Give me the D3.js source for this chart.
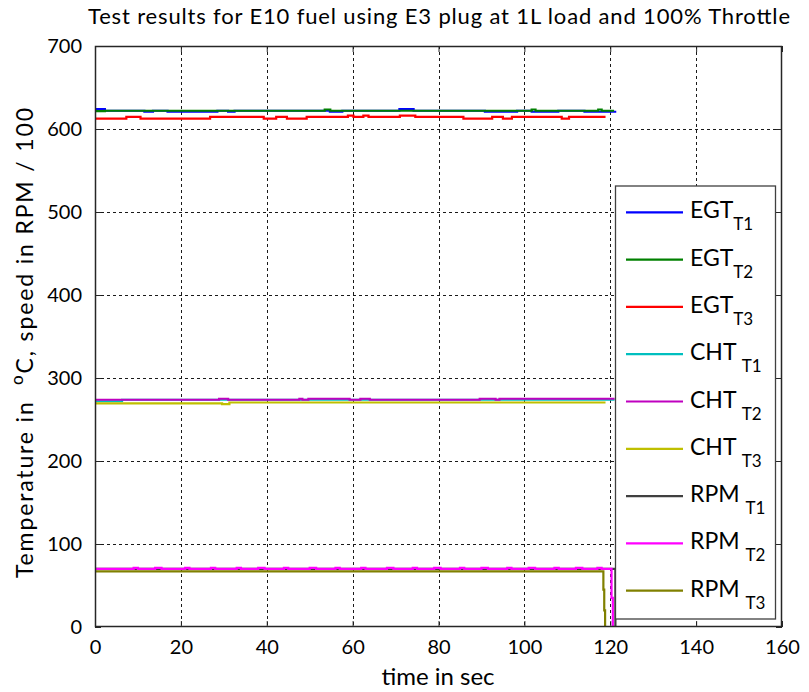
<!DOCTYPE html>
<html>
<head>
<meta charset="utf-8">
<script src="https://cdn.jsdelivr.net/npm/d3@7"></script>
<style>
  html, body { margin: 0; padding: 0; background: #fff; }
  svg { display: block; font-family: Lato, "Open Sans", sans-serif; }
</style>
</head>
<body>
<svg id="chart" width="809" height="692"></svg>
<script>
// ---- Data: step-change times (s) and readings for each trace ----
const xTicks = [0, 20, 40, 60, 80, 100, 120, 140, 160];
const yTicks = [0, 100, 200, 300, 400, 500, 600, 700];

const egtT1Time = [0, 2.3, 11.5, 13.5, 16.9, 28.5, 31, 32.5, 54.7, 57.6, 70.9, 74.2, 90.8, 98.3, 101.7, 107.9, 114, 121.4];
const egtT1Val  = [624, 622, 620.8, 622, 620.8, 622, 620.8, 622, 620.8, 622, 624, 622, 620.8, 622, 620.8, 622, 620.8, 620.8];

const egtT2Time = [0, 2.3, 53.5, 54.8, 101.7, 102.6, 117.2, 118, 120.9];
const egtT2Val  = [621.5, 622, 623.5, 622, 623.5, 622, 623.5, 622, 622];

const egtT3Time = [0, 7.3, 10.6, 26.8, 39.3, 42.2, 44.7, 49.3, 58.9, 60.2, 62.5, 63.7, 71, 74.6, 85.8, 92.5, 95.0, 97.1, 108.7, 110.4, 118.9];
const egtT3Val  = [612.5, 614.5, 612.5, 614.5, 612.5, 614.5, 612.5, 614.5, 616, 614.5, 616, 614.5, 616, 614.5, 612.5, 614.5, 612.5, 614.5, 612.5, 614.5, 614.5];

const chtT1Time = [0, 6.3, 121];
const chtT1Val  = [272, 273.8, 273.8];

const chtT2Time = [0, 28.9, 31.0, 47.6, 48.3, 49.7, 59.3, 61.8, 64.0, 89.6, 93.3, 94.2, 121];
const chtT2Val  = [273.8, 275, 273.8, 275, 273.8, 275, 273.8, 275, 273.8, 275, 273.8, 275, 275];

const chtT3Time = [0, 29.6, 31.3, 118.9];
const chtT3Val  = [269.5, 268.5, 270.5, 270.5];

const rpmT1Time = [0, 121.0, 121.2];
const rpmT1Val  = [70, 70, 0];

const rpmT2Time = [0, 9, 10, 14, 15.5, 21, 22, 27, 28, 33, 34, 38, 39.5, 44, 45, 50, 51.5, 56, 57, 62, 63, 68, 69.5, 74, 75, 79, 80.5, 85, 86, 90, 91.5, 96, 97, 101, 102.5, 107, 108, 112, 113.5, 117, 118, 120.3, 120.6];
const rpmT2Val  = [70, 71.3, 70, 71.3, 70, 71.3, 70, 71.3, 70, 71.3, 70, 71.3, 70, 71.3, 70, 71.3, 70, 71.3, 70, 71.3, 70, 71.3, 70, 71.3, 70, 71.3, 70, 71.3, 70, 71.3, 70, 71.3, 70, 71.3, 70, 71.3, 70, 71.3, 70, 71.3, 70, 35, 0];

const rpmT3Time = [0, 118.4, 118.6, 118.8, 119.0];
const rpmT3Val  = [67, 45, 20, 0, 0];

const legendLabels = [
  ["EGT", "T1"], ["EGT", "T2"], ["EGT", "T3"],
  ["CHT ", "T1"], ["CHT ", "T2"], ["CHT ", "T3"],
  ["RPM ", "T1"], ["RPM ", "T2"], ["RPM ", "T3"]
];
const seriesColors = ["#0000ff", "#008000", "#ff0000", "#00bfbf", "#bf00bf", "#bfbf00", "#404040", "#ff00ff", "#808000"];

const titleText = "Test results for E10 fuel using E3 plug at 1L load and 100% Throttle";
const xLabelText = "time in sec";

// ---- Layout ----
const svg = d3.select("#chart");
const plot = { left: 95, right: 782, top: 46, bottom: 627 };

const x = d3.scaleLinear().domain([0, 160]).range([plot.left, plot.right]);
const y = d3.scaleLinear().domain([0, 700]).range([plot.bottom, plot.top]);

svg.append("defs").append("clipPath").attr("id", "plotClip")
  .append("rect")
  .attr("x", plot.left).attr("y", plot.top)
  .attr("width", plot.right - plot.left).attr("height", plot.bottom - plot.top);

// Grid (dashed)
const grid = svg.append("g").attr("stroke", "#1a1a1a").attr("stroke-width", 1)
  .attr("stroke-dasharray", "3,3").attr("shape-rendering", "crispEdges");
grid.selectAll("line.gx").data(xTicks.slice(1, -1)).join("line")
  .attr("x1", d => Math.round(x(d)) + 0.5).attr("x2", d => Math.round(x(d)) + 0.5)
  .attr("y1", plot.top).attr("y2", plot.bottom);
grid.selectAll("line.gy").data(yTicks.slice(1)).join("line")
  .attr("y1", d => Math.round(y(d)) + 0.5).attr("y2", d => Math.round(y(d)) + 0.5)
  .attr("x1", plot.left).attr("x2", plot.right);

// Axes with inward ticks on all four sides
const tickLen = 6;
const axisFont = 20;
const bottomAxis = d3.axisBottom(x).tickValues(xTicks).tickSizeInner(-tickLen).tickSizeOuter(0).tickPadding(tickLen + 7);
const leftAxis = d3.axisLeft(y).tickValues(yTicks).tickSizeInner(-tickLen).tickSizeOuter(0).tickPadding(tickLen + 7);
const topAxis = d3.axisTop(x).tickValues(xTicks).tickSizeInner(-tickLen).tickSizeOuter(0).tickFormat("");
const rightAxis = d3.axisRight(y).tickValues(yTicks).tickSizeInner(-tickLen).tickSizeOuter(0).tickFormat("");

function styleAxis(g) {
  g.select(".domain").remove();
  g.selectAll(".tick line").attr("stroke", "#262626").attr("stroke-width", 1);
  g.selectAll(".tick text").attr("fill", "#000").attr("font-size", axisFont).attr("font-family", "Lato, sans-serif");
}
svg.append("g").attr("transform", `translate(0,${plot.bottom})`).call(bottomAxis).call(styleAxis);
svg.append("g").attr("transform", `translate(${plot.left},0)`).call(leftAxis).call(styleAxis);
svg.append("g").attr("transform", `translate(0,${plot.top})`).call(topAxis).call(styleAxis);
svg.append("g").attr("transform", `translate(${plot.right},0)`).call(rightAxis).call(styleAxis);

// ---- Traces ----
const line = d3.line().x(d => x(d[0])).y(d => y(d[1])).curve(d3.curveStepAfter);
const traces = [
  [egtT1Time, egtT1Val, 0], [egtT2Time, egtT2Val, 1], [egtT3Time, egtT3Val, 2],
  [chtT1Time, chtT1Val, 3], [chtT2Time, chtT2Val, 4], [chtT3Time, chtT3Val, 5],
  [rpmT1Time, rpmT1Val, 6], [rpmT2Time, rpmT2Val, 7], [rpmT3Time, rpmT3Val, 8]
];
const traceG = svg.append("g").attr("clip-path", "url(#plotClip)");
traces.forEach(([t, v, ci]) => {
  traceG.append("path")
    .datum(t.map((ti, i) => [ti, v[i]]))
    .attr("d", line)
    .attr("fill", "none")
    .attr("stroke", seriesColors[ci])
    .attr("stroke-width", 2.2)
    .attr("stroke-linejoin", "miter");
});

// Axes box
svg.append("rect")
  .attr("x", plot.left + 0.5).attr("y", plot.top + 0.5)
  .attr("width", plot.right - plot.left - 1).attr("height", plot.bottom - plot.top - 1)
  .attr("fill", "none").attr("stroke", "#262626").attr("stroke-width", 1.5);

// ---- Legend ----
const leg = { x: 615.5, y: 186, w: 160, h: 433, rowH: 47.3, firstRow: 212.3 };
const legG = svg.append("g");
legG.append("rect")
  .attr("x", leg.x).attr("y", leg.y).attr("width", leg.w).attr("height", leg.h)
  .attr("fill", "#fff").attr("stroke", "#404040").attr("stroke-width", 1.3);
legendLabels.forEach((lab, i) => {
  const cy = leg.firstRow + i * leg.rowH;
  legG.append("line")
    .attr("x1", 626).attr("x2", 683).attr("y1", cy).attr("y2", cy)
    .attr("stroke", seriesColors[i]).attr("stroke-width", 2.2);
  const txt = legG.append("text")
    .attr("x", 690).attr("y", cy + 6)
    .attr("font-size", 23).attr("fill", "#000")
    .attr("xml:space", "preserve").style("white-space", "pre");
  txt.append("tspan").text(lab[0]);
  txt.append("tspan").attr("font-size", 17).attr("dy", 12).text(lab[1]);
});

// ---- Titles ----
svg.append("text")
  .attr("x", 439).attr("y", 24)
  .attr("text-anchor", "middle").attr("font-size", 22).attr("fill", "#000")
  .attr("textLength", 702).attr("lengthAdjust", "spacing")
  .text(titleText);

svg.append("text")
  .attr("x", 438).attr("y", 685)
  .attr("text-anchor", "middle").attr("font-size", 24).attr("fill", "#000")
  .text(xLabelText);

const yl = svg.append("text")
  .attr("transform", "translate(33,343) rotate(-90)")
  .attr("text-anchor", "middle").attr("font-size", 23).attr("fill", "#000")
  .attr("textLength", 470).attr("lengthAdjust", "spacing")
  .style("white-space", "pre");
yl.append("tspan").text("Temperature in  ");
yl.append("tspan").attr("font-size", 17).attr("dy", -10).text("o");
yl.append("tspan").attr("dy", 10).text("C, speed in RPM / 100");
</script>
</body>
</html>
